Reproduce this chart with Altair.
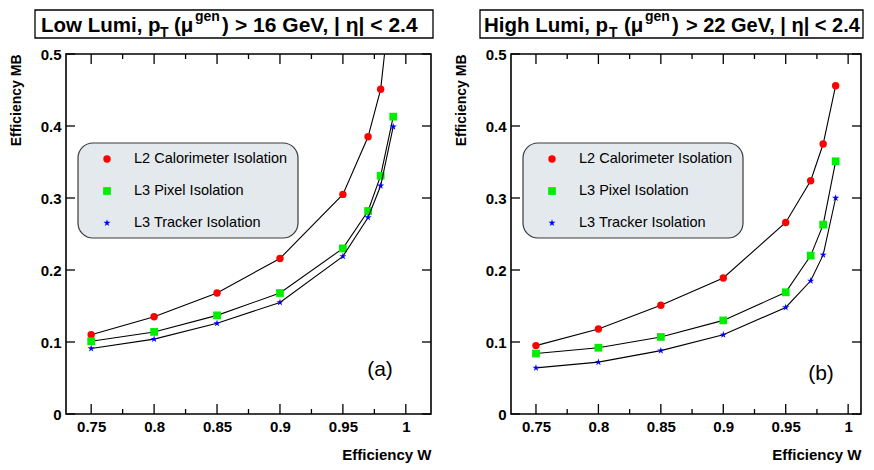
import altair as alt
import pandas as pd

# ---------------- data ----------------
eff_w = [0.75, 0.80, 0.85, 0.90, 0.95, 0.97, 0.98, 0.99]
series_names = ["L2 Calorimeter Isolation", "L3 Pixel Isolation", "L3 Tracker Isolation"]

low_l2 = [0.110, 0.135, 0.168, 0.216, 0.305, 0.385, 0.451, 0.610]
low_l3pix = [0.101, 0.114, 0.137, 0.168, 0.230, 0.282, 0.331, 0.413]
low_l3trk = [0.091, 0.104, 0.126, 0.155, 0.219, 0.273, 0.317, 0.399]

high_l2 = [0.095, 0.118, 0.151, 0.189, 0.266, 0.324, 0.375, 0.456]
high_l3pix = [0.084, 0.092, 0.107, 0.130, 0.169, 0.220, 0.263, 0.351]
high_l3trk = [0.064, 0.072, 0.088, 0.110, 0.148, 0.185, 0.221, 0.300]

x_major = [0.75, 0.8, 0.85, 0.9, 0.95, 1.0]
x_minor = [0.775, 0.825, 0.875, 0.925, 0.975]
y_major = [0.0, 0.1, 0.2, 0.3, 0.4, 0.5]

low_title = ["Low Lumi, p", "T", "(\u03bc", "gen", ")", "> 16 GeV, | \u03b7| < 2.4"]
high_title = ["High Lumi, p", "T", "(\u03bc", "gen", ")", "> 22 GeV, | \u03b7| < 2.4"]

# ---------------- style ----------------
STAR = ("M0,-1L0.2245,-0.309L0.951,-0.309L0.363,0.118L0.588,0.809L0,0.382"
        "L-0.588,0.809L-0.363,0.118L-0.951,-0.309L-0.2245,-0.309Z")
colors = ["#ff0000", "#00ee00", "#0000ff"]
shapes = ["circle", "square", STAR]
sizes = [55, 60, 55]
H = 360
FONT = "Liberation Sans"
NARROW = "Liberation Sans Narrow, Liberation Sans, sans-serif"


def make_panel(series_vals, W, xmax, title_parts, title_x, title_fs, tag, tag_xy):
    xs = alt.Scale(domain=[0.73, xmax], nice=False, zero=False)
    ys = alt.Scale(domain=[0, 0.5], nice=False, zero=False)

    x_axis = alt.Axis(values=x_major, format="~g", ticks=False, domain=False, grid=False,
                      labelFont=NARROW, labelFontWeight="bold", labelFontSize=15,
                      labelColor="black", labelPadding=5,
                      title="Efficiency W", titleFont=NARROW, titleFontWeight="bold",
                      titleFontSize=15, titleColor="black", titleX=W, titleY=40,
                      titleAlign="right", titleBaseline="middle")
    y_axis = alt.Axis(values=y_major, format="~g", ticks=False, domain=False, grid=False,
                      labelFont=FONT, labelFontWeight="bold", labelFontSize=15,
                      labelColor="black", labelPadding=5,
                      title="Efficiency MB", titleFont=FONT, titleFontWeight="bold",
                      titleFontSize=14, titleColor="black", titleAngle=270,
                      titleX=-50, titleY=0, titleAlign="right", titleBaseline="middle")

    def xe():
        return alt.X("w:Q", scale=xs, axis=x_axis)

    def ye():
        return alt.Y("mb:Q", scale=ys, axis=y_axis)

    layers = []
    for name, vals, col, shp, sz in zip(series_names, series_vals, colors, shapes, sizes):
        df = pd.DataFrame({"w": eff_w, "mb": vals})
        layers.append(alt.Chart(df).mark_line(color="black", strokeWidth=1.1, clip=True)
                      .encode(x=xe(), y=ye()))
        layers.append(alt.Chart(df).mark_point(filled=True, opacity=1, clip=True, color=col,
                                               shape=shp, size=sz)
                      .encode(x=xe(), y=ye()))

    # inward ticks
    xmaj = pd.DataFrame({"w": x_major})
    xmin = pd.DataFrame({"w": x_minor})
    ymaj = pd.DataFrame({"mb": y_major})
    for d, L in ((xmaj, 10), (xmin, 5)):
        layers.append(alt.Chart(d).mark_rule(color="black", strokeWidth=1.3).encode(
            x=xe(), y=alt.value(H), y2=alt.value(H - L)))
        layers.append(alt.Chart(d).mark_rule(color="black", strokeWidth=1.3).encode(
            x=xe(), y=alt.value(0), y2=alt.value(L)))
    layers.append(alt.Chart(ymaj).mark_rule(color="black", strokeWidth=1.3).encode(
        y=ye(), x=alt.value(0), x2=alt.value(9)))
    layers.append(alt.Chart(ymaj).mark_rule(color="black", strokeWidth=1.3).encode(
        y=ye(), x=alt.value(W), x2=alt.value(W - 9)))

    one = pd.DataFrame({"k": [0]})
    # legend box
    layers.append(alt.Chart(one).mark_rect(cornerRadius=15, fill="#e4e9ed", stroke="#3a3a3a",
                                           strokeWidth=1.2).encode(
        x=alt.value(12), x2=alt.value(232), y=alt.value(89), y2=alt.value(184)))
    for i, (name, col, shp, sz) in enumerate(zip(series_names, colors, shapes, sizes)):
        ly = 105 + i * 32
        dfl = pd.DataFrame({"series": [name]})
        layers.append(alt.Chart(dfl).mark_point(filled=True, opacity=1, color=col, shape=shp,
                                                size=sz).encode(
            x=alt.value(41), y=alt.value(ly)))
        layers.append(alt.Chart(dfl).mark_text(align="left", baseline="middle", font=FONT,
                                               fontSize=14.5, color="black").encode(
            x=alt.value(68), y=alt.value(ly), text="series:N"))

    # header box with title
    layers.append(alt.Chart(one).mark_rect(fill="white", stroke="black", strokeWidth=1.3).encode(
        x=alt.value(-31), x2=alt.value(W + 2), y=alt.value(-44), y2=alt.value(-16)))
    ybase = [-22, -17, -22, -33, -22, -22]
    for part, px, fs, yb in zip(title_parts, title_x, title_fs, ybase):
        layers.append(alt.Chart(one).mark_text(
            align="left", baseline="alphabetic", font=FONT, fontWeight="bold",
            fontSize=fs, color="black", text=part).encode(x=alt.value(px), y=alt.value(yb)))

    layers.append(alt.Chart(one).mark_text(align="center", baseline="middle", font=FONT,
                                           fontSize=21, color="black", text=tag).encode(
        x=alt.value(tag_xy[0]), y=alt.value(tag_xy[1])))

    return alt.layer(*layers).properties(width=W, height=H)


left = make_panel([low_l2, low_l3pix, low_l3trk], 365, 1.02, low_title,
                  [-25, 94, 108, 129, 156, 169], [20.5, 14, 20.5, 14, 20.5, 21],
                  "(a)", (314, 316))
right = make_panel([high_l2, high_l3pix, high_l3trk], 350, 1.0103, high_title,
                   [-27, 98, 113, 134, 161, 175], [20.5, 14, 20.5, 14, 20.5, 20],
                   "(b)", (310, 320))

chart = alt.hconcat(left, right, spacing=80, bounds="flush").properties(
    padding=0, background="white"
).configure_view(stroke="black", strokeWidth=1.6)

chart.save("out.html", embed_options={"renderer": "svg", "actions": False})
